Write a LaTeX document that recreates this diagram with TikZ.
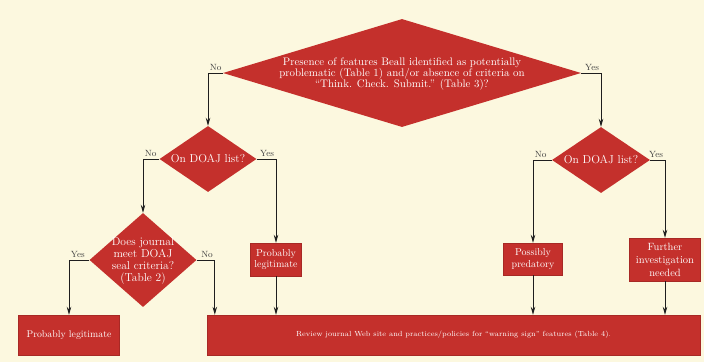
\documentclass[tikz,border=0pt]{standalone}
\usetikzlibrary{shapes.geometric,arrows.meta,calc}
\definecolor{bg}{HTML}{FCF8DF}
\definecolor{rd}{HTML}{C4302C}
\definecolor{ln}{HTML}{1E1E1E}
\begin{document}
\begin{tikzpicture}[x=1pt,y=-1pt,
  dia/.style={shape=diamond, fill=rd, draw=none, inner sep=0pt},
  wt/.style={text=white, align=center, inner sep=0pt},
  box/.style={rectangle, fill=rd, draw=rd!85!black, line width=0.4pt, text=white, align=center, inner sep=0pt},
  arr/.style={draw=ln, line width=0.9pt, -{Stealth[length=8pt,width=4.5pt]}},
  lbl/.style={font=\fontsize{9}{10}\selectfont, text=ln!85, inner sep=1.5pt}]
\fill[bg] (0,0) rectangle (704,362);
\useasboundingbox (0,0) rectangle (704,362);

% diamonds
\node[dia, minimum width=358pt, minimum height=108pt] (q1) at (402,73) {};
\node[wt, font=\fontsize{10.9}{11.2}\selectfont] (q1t) at (402,74)
  {Presence of features Beall identified as potentially\\problematic (Table 1) and/or absence of criteria on\\“Think. Check. Submit.” (Table 3)?};
\node[dia, minimum width=97pt, minimum height=66pt] (d1) at (208,159) {};
\node[wt, font=\fontsize{11.5}{12}\selectfont] (d1t) at (208,159) {On DOAJ list?};
\node[dia, minimum width=98pt, minimum height=66pt] (d3) at (601,160) {};
\node[wt, font=\fontsize{11.5}{12}\selectfont] (d3t) at (601,160) {On DOAJ list?};
\node[dia, minimum width=107pt, minimum height=94pt] (d2) at (143,260) {};
\node[wt, font=\fontsize{11.5}{12.2}\selectfont] (d2t) at (143,261) {Does journal\\meet DOAJ\\seal criteria?\\(Table 2)};

% boxes
\node[box, minimum width=101pt, minimum height=40pt, font=\fontsize{9.8}{11}\selectfont] (pl1) at (69,335) {Probably legitimate};
\node[box, minimum width=51pt, minimum height=33pt, font=\fontsize{10}{11.5}\selectfont] (pl2) at (276,259.5) {Probably\\legitimate};
\node[box, minimum width=59pt, minimum height=32pt, font=\fontsize{10}{11.5}\selectfont] (pp) at (533,259) {Possibly\\predatory};
\node[box, minimum width=71pt, minimum height=43pt, font=\fontsize{10.5}{13}\selectfont] (fi) at (665,259.5) {Further\\investigation\\needed};
\node[box, minimum width=493pt, minimum height=40pt, font=\fontsize{7.4}{9}\selectfont] (big) at (453.5,335) {Review journal Web site and practices/policies for “warning sign” features (Table 4).};

% connectors
\draw[arr] (q1.west) -| node[lbl, pos=0.5, above right] {No} (d1.north);
\draw[arr] (q1.east) -| node[lbl, pos=0.5, above left] {Yes} (d3.north);
\draw[arr] (d1.west) -| node[lbl, pos=0.5, above right] {No} (d2.north);
\draw[arr] (d1.east) -| node[lbl, pos=0.5, above left] {Yes} (pl2.north);
\draw[arr] (d2.west) -| node[lbl, pos=0.5, above right] {Yes} (pl1.north);
\draw[arr] (d2.east) -| node[lbl, pos=0.5, above left] {No} ([xshift=8pt]big.north west);
\draw[arr] (d3.west) -| node[lbl, pos=0.5, above right] {No} (pp.north);
\draw[arr] (d3.east) -| node[lbl, pos=0.5, above left] {Yes} (fi.north);
\draw[arr] (pl2.south) -- (pl2.south |- big.north);
\draw[arr] (pp.south) -- (pp.south |- big.north);
\draw[arr] (fi.south) -- (fi.south |- big.north);
\end{tikzpicture}
\end{document}
